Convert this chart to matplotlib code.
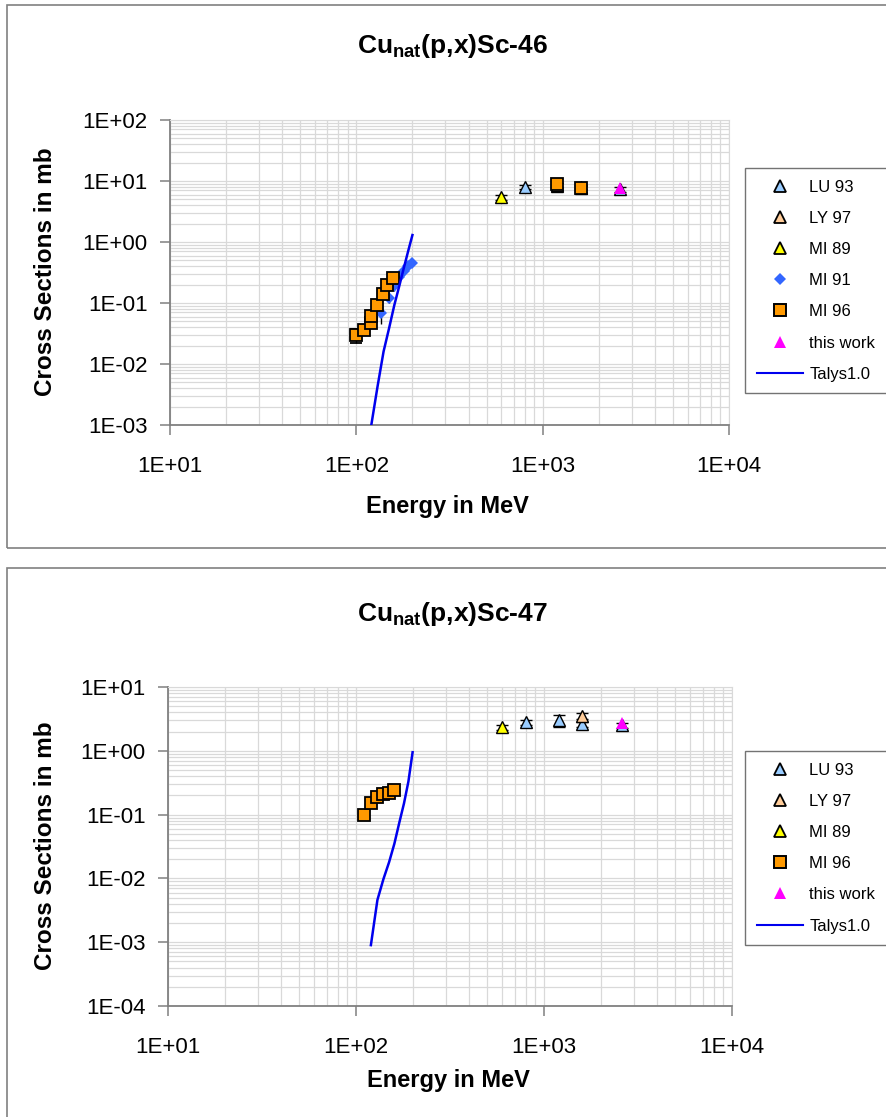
import matplotlib
matplotlib.use("Agg")
import matplotlib.pyplot as plt
from matplotlib.lines import Line2D
from matplotlib.patches import Rectangle
from matplotlib.ticker import LogLocator, FixedLocator, FuncFormatter, NullFormatter
import numpy as np

plt.rcParams['font.family'] = ['Liberation Sans', 'DejaVu Sans']
plt.rcParams['mathtext.fontset'] = 'custom'
plt.rcParams['mathtext.rm'] = 'Liberation Sans:bold'
plt.rcParams['mathtext.it'] = 'Liberation Sans:bold'
plt.rcParams['mathtext.bf'] = 'Liberation Sans:bold'

# ---------------- Sc-46 data (energy in MeV, cross section in mb) ----------------
lu93_46_e = [800, 1200, 1600, 2600]
lu93_46_s = [7.9, 8.4, 7.6, 7.3]
lu93_46_err = [0.6, 0.7, 0.6, 0.6]

ly97_46_e = [1200, 1600]
ly97_46_s = [8.6, 8.0]
ly97_46_err = [0.7, 0.7]

mi89_46_e = [600]
mi89_46_s = [5.4]
mi89_46_err = [0.5]

mi91_46_e = [135, 150, 160, 170, 180, 190, 200]
mi91_46_s = [0.069, 0.12, 0.19, 0.27, 0.33, 0.40, 0.45]
mi91_46_err = [0.024, 0.02, 0.03, 0.04, 0.04, 0.05, 0.05]

mi96_46_e = [100, 110, 120, 120, 129, 139, 146, 157, 1200, 1600]
mi96_46_s = [0.030, 0.036, 0.047, 0.061, 0.093, 0.14, 0.20, 0.26, 8.8, 7.6]
mi96_46_err = [0.008, 0.005, 0.006, 0.008, 0.012, 0.02, 0.03, 0.04, 0.8, 0.8]

work_46_e = [2600]
work_46_s = [7.6]
work_46_err = [0.6]

talys_46_e = [120, 130, 140, 150, 160, 170, 180, 190, 200]
talys_46_s = [0.00095, 0.0043, 0.016, 0.039, 0.093, 0.19, 0.38, 0.72, 1.3]

# ---------------- Sc-47 data ----------------
lu93_47_e = [800, 1200, 1600, 2600]
lu93_47_s = [2.8, 3.0, 2.6, 2.5]
lu93_47_err = [0.25, 0.6, 0.25, 0.2]

ly97_47_e = [1600]
ly97_47_s = [3.5]
ly97_47_err = [0.35]

mi89_47_e = [600]
mi89_47_s = [2.35]
mi89_47_err = [0.2]

mi96_47_e = [110, 120, 130, 140, 150, 160]
mi96_47_s = [0.097, 0.15, 0.186, 0.21, 0.22, 0.24]
mi96_47_err = [0.012, 0.018, 0.02, 0.02, 0.02, 0.02]

work_47_e = [2600]
work_47_s = [2.75]
work_47_err = [0.2]

talys_47_e = [120, 130, 140, 150, 160, 170, 180, 190, 200]
talys_47_s = [0.0009, 0.0046, 0.0098, 0.018, 0.035, 0.075, 0.15, 0.33, 0.95]

titles = ["Cu$_{\\mathrm{nat}}$(p,x)Sc-46", "Cu$_{\\mathrm{nat}}$(p,x)Sc-47"]

# ---------------- styling ----------------
C_LU = '#99CCFF'
C_LY = '#FFCC99'
C_MI89 = '#FFFF00'
C_MI91 = '#3366FF'
C_MI96 = '#FF9900'
C_WORK = '#FF00FF'
C_TALYS = '#0000EE'
GRID = '#d9d9d9'
AXIS = '#808080'

W, H = 886, 1117
fig = plt.figure(figsize=(W / 100, H / 100), dpi=100)


def fx(px):
    return px / W


def fy(py):
    return 1 - py / H


# panel frames
fig.patches.append(Rectangle((fx(7), fy(548)), fx(900) - fx(7), fy(5) - fy(548),
                             transform=fig.transFigure, fill=False, ec=AXIS, lw=1.2))
fig.patches.append(Rectangle((fx(7), fy(1130)), fx(900) - fx(7), fy(568) - fy(1130),
                             transform=fig.transFigure, fill=False, ec=AXIS, lw=1.2))


def dec_fmt(v, pos):
    return "1E{:+03d}".format(int(round(np.log10(v))))


def style_axes(ax, ymin, ymax):
    ax.set_xscale('log')
    ax.set_yscale('log')
    ax.set_xlim(10, 1e4)
    ax.set_ylim(ymin, ymax)
    ax.xaxis.set_major_locator(FixedLocator([10, 100, 1000, 10000]))
    exps = range(int(np.log10(ymin)), int(np.log10(ymax)) + 1)
    ax.yaxis.set_major_locator(FixedLocator([10.0 ** k for k in exps]))
    ax.xaxis.set_major_formatter(FuncFormatter(dec_fmt))
    ax.yaxis.set_major_formatter(FuncFormatter(dec_fmt))
    for axis in (ax.xaxis, ax.yaxis):
        axis.set_minor_locator(LogLocator(base=10, subs=np.arange(2, 10), numticks=20))
        axis.set_minor_formatter(NullFormatter())
    ax.grid(True, which='both', color=GRID, lw=0.9)
    ax.set_axisbelow(True)
    ax.tick_params(which='major', direction='out', length=7, width=1.1, color=AXIS,
                   labelsize=16, pad=9)
    ax.tick_params(axis='x', which='major', pad=15)
    ax.tick_params(which='minor', length=0)
    ax.spines['left'].set_color(AXIS)
    ax.spines['bottom'].set_color(AXIS)
    ax.spines['left'].set_linewidth(1.3)
    ax.spines['bottom'].set_linewidth(1.3)
    ax.spines['top'].set_color(GRID)
    ax.spines['right'].set_color(GRID)


def tri(ax, e, s, err, color, z):
    ax.errorbar(e, s, yerr=err, fmt='^', ms=8.5, mfc=color, mec='black', mew=1.0,
                ecolor='black', elinewidth=1.0, capsize=4, capthick=1.0, zorder=z)


def draw_panel(ax, series, talys):
    for kind, e, s, err, color, z in series:
        if kind == 'tri':
            tri(ax, e, s, err, color, z)
        elif kind == 'dia':
            ax.errorbar(e, s, yerr=err, fmt='D', ms=6, mfc=color, mec=color, mew=0,
                        ecolor='black', elinewidth=1.0, capsize=4, capthick=1.0, zorder=z)
        elif kind == 'sq':
            ax.errorbar(e, s, yerr=err, fmt='s', ms=8.5, mfc=color, mec='black', mew=1.3,
                        ecolor='black', elinewidth=1.0, capsize=4, capthick=1.0, zorder=z)
        elif kind == 'work':
            ax.errorbar(e, s, yerr=err, fmt='^', ms=9, mfc=color, mec=color, mew=0,
                        ecolor='black', elinewidth=1.0, capsize=4, capthick=1.0, zorder=z)
    ax.plot(talys[0], talys[1], color=C_TALYS, lw=1.8, zorder=10)


def legend_handles(with_mi91):
    hs = [
        (Line2D([], [], ls='none', marker='^', ms=8, mfc=C_LU, mec='black', mew=1.3), 'LU 93'),
        (Line2D([], [], ls='none', marker='^', ms=8, mfc=C_LY, mec='black', mew=1.3), 'LY 97'),
        (Line2D([], [], ls='none', marker='^', ms=8, mfc=C_MI89, mec='black', mew=1.3), 'MI 89'),
    ]
    if with_mi91:
        hs.append((Line2D([], [], ls='none', marker='D', ms=6.5, mfc=C_MI91, mec=C_MI91, mew=0), 'MI 91'))
    hs += [
        (Line2D([], [], ls='none', marker='s', ms=8, mfc=C_MI96, mec='black', mew=1.4), 'MI 96'),
        (Line2D([], [], ls='none', marker='^', ms=9, mfc=C_WORK, mec=C_WORK, mew=0), 'this work'),
        (Line2D([], [], color=C_TALYS, lw=1.5), 'Talys1.0'),
    ]
    return [h for h, _ in hs], [l for _, l in hs]


def add_legend(with_mi91, top_px):
    h, l = legend_handles(with_mi91)
    leg = fig.legend(h, l, loc='upper left', bbox_to_anchor=(fx(745), fy(top_px)),
                     bbox_transform=fig.transFigure, borderaxespad=0, frameon=True,
                     fancybox=False, edgecolor='#505050', fontsize=12,
                     labelspacing=0.97, handlelength=2.8, handletextpad=0.35,
                     borderpad=0.7, numpoints=1)
    leg.get_frame().set_linewidth(1.0)
    return leg


# ---------------- top panel: Sc-46 ----------------
ax1 = fig.add_axes([fx(170), fy(425), fx(729) - fx(170), fy(120) - fy(425)])
style_axes(ax1, 1e-3, 1e2)
draw_panel(ax1, [
    ('tri', lu93_46_e, lu93_46_s, lu93_46_err, C_LU, 3),
    ('tri', ly97_46_e, ly97_46_s, ly97_46_err, C_LY, 4),
    ('tri', mi89_46_e, mi89_46_s, mi89_46_err, C_MI89, 5),
    ('dia', mi91_46_e, mi91_46_s, mi91_46_err, C_MI91, 6),
    ('sq', mi96_46_e, mi96_46_s, mi96_46_err, C_MI96, 7),
    ('work', work_46_e, work_46_s, work_46_err, C_WORK, 8),
], (talys_46_e, talys_46_s))
add_legend(True, 168)

fig.text(fx(452), fy(46), titles[0], ha='center', va='center', fontsize=19, fontweight='bold')
fig.text(fx(447), fy(507), "Energy in MeV", ha='center', va='center', fontsize=17, fontweight='bold')
fig.text(fx(46), fy(272), "Cross Sections in mb", ha='center', va='center', rotation=90,
         fontsize=17.5, fontweight='bold')

# ---------------- bottom panel: Sc-47 ----------------
ax2 = fig.add_axes([fx(168), fy(1006), fx(732) - fx(168), fy(687) - fy(1006)])
style_axes(ax2, 1e-4, 1e1)
draw_panel(ax2, [
    ('tri', lu93_47_e, lu93_47_s, lu93_47_err, C_LU, 3),
    ('tri', ly97_47_e, ly97_47_s, ly97_47_err, C_LY, 4),
    ('tri', mi89_47_e, mi89_47_s, mi89_47_err, C_MI89, 5),
    ('sq', mi96_47_e, mi96_47_s, mi96_47_err, C_MI96, 7),
    ('work', work_47_e, work_47_s, work_47_err, C_WORK, 8),
], (talys_47_e, talys_47_s))
add_legend(False, 751)

fig.text(fx(452), fy(614), titles[1], ha='center', va='center', fontsize=19, fontweight='bold')
fig.text(fx(448), fy(1080), "Energy in MeV", ha='center', va='center', fontsize=17, fontweight='bold')
fig.text(fx(46), fy(846), "Cross Sections in mb", ha='center', va='center', rotation=90,
         fontsize=17.5, fontweight='bold')

fig.savefig("out.png", dpi=100)
